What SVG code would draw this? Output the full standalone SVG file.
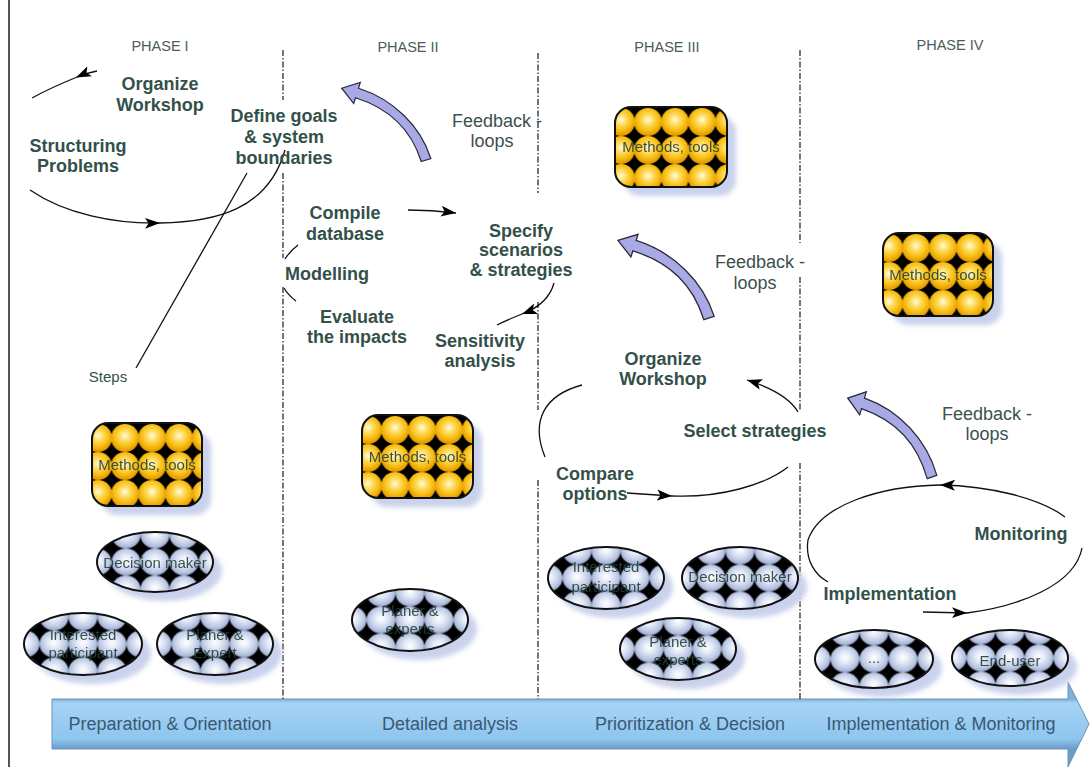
<svg xmlns="http://www.w3.org/2000/svg" width="1091" height="767" viewBox="0 0 1091 767">
<style>
.hdr{font-family:"Liberation Sans",Arial,sans-serif;font-size:14.5px;fill:#4d5b5b;text-anchor:middle}
.lbl{font-family:"Liberation Sans",Arial,sans-serif;font-size:18px;font-weight:bold;fill:#33504a;text-anchor:middle}
.fb{font-family:"Liberation Sans",Arial,sans-serif;font-size:18px;fill:#3c5050;text-anchor:middle}
.sm{font-family:"Liberation Sans",Arial,sans-serif;font-size:15px;fill:#33504a;text-anchor:middle}
.nt{font-family:"Liberation Sans",Arial,sans-serif;font-size:15px;fill:#24403a;text-anchor:middle;opacity:0.9}
.bar{font-family:"Liberation Sans",Arial,sans-serif;font-size:18px;fill:#3a5872;text-anchor:middle}
.sep{stroke:#2a2a2a;stroke-width:1.3;stroke-dasharray:6 2 1.5 2;fill:none}
.ln{stroke:#111;stroke-width:1.3;fill:none}
.ar{marker-end:url(#ah)}
.fbk{fill:#a9a9e6;stroke:#2a2a3a;stroke-width:1.2}
.mt{fill:url(#pY);stroke:#111;stroke-width:2}
.el{fill:url(#pB);stroke:#111;stroke-width:2}
.sh{fill:#c9d1ec;filter:url(#blur)}
</style>
<defs>
 <radialGradient id="gY" cx="50%" cy="42%" r="55%">
  <stop offset="0" stop-color="#fffbe6"/>
  <stop offset="0.3" stop-color="#ffdf6a"/>
  <stop offset="0.7" stop-color="#f7bd12"/>
  <stop offset="1" stop-color="#e39a00"/>
 </radialGradient>
 <radialGradient id="gB" cx="50%" cy="45%" r="55%">
  <stop offset="0" stop-color="#ffffff"/>
  <stop offset="0.35" stop-color="#e4eaf7"/>
  <stop offset="0.75" stop-color="#bcc8e4"/>
  <stop offset="1" stop-color="#9aa8cc"/>
 </radialGradient>
 <pattern id="pY" patternUnits="userSpaceOnUse" x="-7.5" y="1" width="27" height="28">
  <rect width="27" height="28" fill="#000"/>
  <circle cx="13.5" cy="14" r="14" fill="url(#gY)"/>
 </pattern>
 <pattern id="pB" patternUnits="userSpaceOnUse" x="-14.5" y="-13.5" width="29" height="27">
  <rect width="29" height="27" fill="#000"/>
  <ellipse cx="14.5" cy="13.5" rx="14.5" ry="13.5" fill="url(#gB)"/>
 </pattern>
 <filter id="blur" x="-20%" y="-20%" width="140%" height="140%"><feGaussianBlur stdDeviation="2.5"/></filter>
 <marker id="ah" markerUnits="userSpaceOnUse" markerWidth="16" markerHeight="12" refX="15" refY="6" orient="auto"><path d="M0,0.5 L15,6 L0,11.5 L3.5,6 z" fill="#000"/></marker>
 <path id="fbArrow" d="M4.8,-1.5 C-5.2,-33.5 -32.5,-60.8 -67.5,-71.8 L-65.7,-77.5 L-84.3,-71.8 L-72.3,-56.5 L-70.5,-62.2 C-35.5,-51.2 -14.8,-30.5 -4.8,1.5 Z"/>
 <linearGradient id="gBar" gradientUnits="userSpaceOnUse" x1="0" y1="699" x2="0" y2="749">
  <stop offset="0" stop-color="#7fb0d8"/>
  <stop offset="0.08" stop-color="#a6d3f5"/>
  <stop offset="0.8" stop-color="#8ec6ef"/>
  <stop offset="1" stop-color="#6a9cc6"/>
 </linearGradient>
</defs>
<rect width="1091" height="767" fill="#fff"/>
<line x1="9" y1="0" x2="9" y2="767" stroke="#555" stroke-width="2"/>

<g id="phase-bar">
 <path d="M52,699 H1068 V682 L1089,724 L1068,767 V749 H52 Z" fill="url(#gBar)" stroke="#6d93b5" stroke-width="1"/>
 <text class="bar" x="170" y="730">Preparation &amp; Orientation</text>
 <text class="bar" x="450" y="730">Detailed analysis</text>
 <text class="bar" x="690" y="730">Prioritization &amp; Decision</text>
 <text class="bar" x="941" y="730">Implementation &amp; Monitoring</text>
</g>

<g id="separators">
 <path class="sep" d="M283,50 V100 M283,173 V258 M283,287 V699"/>
 <path class="sep" d="M538,53 V193 M538,302 V410 M538,480 V699"/>
 <path class="sep" d="M800,50 V243 M800,277 V410 M800,463 V699"/>
</g>

<g id="headers">
 <text class="hdr" x="160" y="51">PHASE I</text>
 <text class="hdr" x="408" y="52">PHASE II</text>
 <text class="hdr" x="667" y="52">PHASE III</text>
 <text class="hdr" x="950" y="50">PHASE IV</text>
</g>

<g id="connectors">
 <path class="ln ar" d="M97,71 Q86,73 76,77.5"/>
 <path class="ln" d="M76,77.5 Q50,88 32,98"/>
 <path class="ln ar" d="M30,190 C65,214 115,224 160,223"/>
 <path class="ln" d="M160,223 C215,222 268,210 285,150"/>
 <path class="ln" d="M247,173 L136,368"/>
 <path class="ln ar" d="M408,210 Q432,210 456,213"/>
 <path class="ln ar" d="M554,283 C550,298 538,308 522,314"/>
 <path class="ln" d="M522,314 C512,318 505,321 497,325"/>
 <path class="ln" d="M298,245 Q290,251 285,259"/>
 <path class="ln" d="M284,288 Q288,295 296,301"/>
 <path class="ln ar" d="M798,412 C790,398 772,388 747,380"/>
 <path class="ln" d="M582,385 C545,395 530,420 545,457"/>
 <path class="ln ar" d="M627,493 L672,496"/>
 <path class="ln" d="M672,496 C720,498 765,485 788,467"/>
 <path class="ln ar" d="M1065,517 C1040,498 990,486 940,485"/>
 <path class="ln" d="M940,485 C880,486 820,505 808,540 C805,560 815,575 828,582"/>
 <path class="ln ar" d="M923,612 L967,613"/>
 <path class="ln" d="M967,613 C1020,606 1075,585 1082,548"/>
 <use href="#fbArrow" class="fbk" transform="translate(426,160)"/>
 <use href="#fbArrow" class="fbk" transform="translate(709,318) scale(1.08)"/>
 <use href="#fbArrow" class="fbk" transform="translate(932,477) scale(1,1.1)"/>
</g>

<g id="labels">
 <text class="lbl" x="160" y="90">Organize</text>
 <text class="lbl" x="160" y="111">Workshop</text>
 <text class="lbl" x="78" y="152">Structuring</text>
 <text class="lbl" x="78" y="172">Problems</text>
 <text class="lbl" x="284" y="122">Define goals</text>
 <text class="lbl" x="284" y="143">&amp; system</text>
 <text class="lbl" x="284" y="164">boundaries</text>
 <text class="sm" x="108" y="382">Steps</text>
 <text class="fb" x="497" y="127">Feedback -</text>
 <text class="fb" x="492" y="147">loops</text>
 <text class="lbl" x="345" y="219">Compile</text>
 <text class="lbl" x="345" y="240">database</text>
 <text class="lbl" x="327" y="280">Modelling</text>
 <text class="lbl" x="521" y="237">Specify</text>
 <text class="lbl" x="521" y="256">scenarios</text>
 <text class="lbl" x="521" y="276">&amp; strategies</text>
 <text class="lbl" x="357" y="323">Evaluate</text>
 <text class="lbl" x="357" y="343">the impacts</text>
 <text class="lbl" x="480" y="347">Sensitivity</text>
 <text class="lbl" x="480" y="367">analysis</text>
 <text class="fb" x="760" y="268">Feedback -</text>
 <text class="fb" x="755" y="289">loops</text>
 <text class="lbl" x="663" y="365">Organize</text>
 <text class="lbl" x="663" y="385">Workshop</text>
 <text class="lbl" x="755" y="437">Select strategies</text>
 <text class="lbl" x="595" y="480">Compare</text>
 <text class="lbl" x="595" y="500">options</text>
 <text class="fb" x="987" y="420">Feedback -</text>
 <text class="fb" x="987" y="440">loops</text>
 <text class="lbl" x="1021" y="540">Monitoring</text>
 <text class="lbl" x="890" y="600">Implementation</text>
</g>

<g id="methods-1" transform="translate(92,423)"><rect class="sh" x="9" y="9" width="110" height="83" rx="16"/><rect class="mt" width="110" height="83" rx="16"/><text class="nt" x="55" y="47">Methods, tools</text></g>
<g id="decision-maker-1" transform="translate(155,562)"><ellipse class="sh" cx="9" cy="9" rx="58" ry="30"/><ellipse class="el" rx="58" ry="30"/><text class="nt" y="6">Decision maker</text></g>
<g id="interested-1" transform="translate(83,644)"><ellipse class="sh" cx="9" cy="9" rx="59" ry="31"/><ellipse class="el" rx="59" ry="31"/><text class="nt" y="-4">Interested</text><text class="nt" y="14">participant</text></g>
<g id="planer-1" transform="translate(215,644)"><ellipse class="sh" cx="9" cy="9" rx="58" ry="31"/><ellipse class="el" rx="58" ry="31"/><text class="nt" y="-4">Planer &amp;</text><text class="nt" y="14">Expert</text></g>

<g id="methods-2" transform="translate(362,415)"><rect class="sh" x="9" y="9" width="111" height="83" rx="16"/><rect class="mt" width="111" height="83" rx="16"/><text class="nt" x="55.5" y="47">Methods, tools</text></g>
<g id="planer-2" transform="translate(410,620)"><ellipse class="sh" cx="9" cy="9" rx="58" ry="31"/><ellipse class="el" rx="58" ry="31"/><text class="nt" y="-4">Planer &amp;</text><text class="nt" y="14">experts</text></g>

<g id="methods-3" transform="translate(615,107)"><rect class="sh" x="9" y="9" width="112" height="80" rx="16"/><rect class="mt" width="112" height="80" rx="16"/><text class="nt" x="56" y="45">Methods, tools</text></g>
<g id="interested-3" transform="translate(606,578)"><ellipse class="sh" cx="9" cy="9" rx="58" ry="31"/><ellipse class="el" rx="58" ry="31"/><text class="nt" y="-6">Interested</text><text class="nt" y="14">participant</text></g>
<g id="decision-maker-3" transform="translate(740,578)"><ellipse class="sh" cx="9" cy="9" rx="58" ry="31"/><ellipse class="el" rx="58" ry="31"/><text class="nt" y="4">Decision maker</text></g>
<g id="planer-3" transform="translate(678,649)"><ellipse class="sh" cx="9" cy="9" rx="58" ry="31"/><ellipse class="el" rx="58" ry="31"/><text class="nt" y="-2">Planer &amp;</text><text class="nt" y="16">experts</text></g>

<g id="methods-4" transform="translate(883,233)"><rect class="sh" x="9" y="9" width="110" height="83" rx="16"/><rect class="mt" width="110" height="83" rx="16"/><text class="nt" x="55" y="47">Methods, tools</text></g>
<g id="other-4" transform="translate(874,659)"><ellipse class="sh" cx="9" cy="9" rx="59" ry="29"/><ellipse class="el" rx="59" ry="29"/><text class="nt" y="4">...</text></g>
<g id="end-user-4" transform="translate(1010,658)"><ellipse class="sh" cx="9" cy="9" rx="58" ry="28"/><ellipse class="el" rx="58" ry="28"/><text class="nt" y="8">End-user</text></g>
</svg>
